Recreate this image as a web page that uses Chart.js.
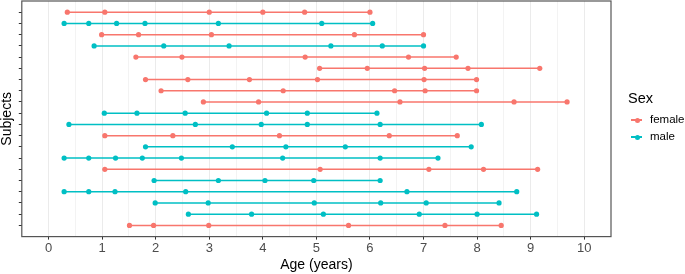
<!DOCTYPE html>
<html>
<head>
<meta charset="utf-8">
<script src="https://cdn.jsdelivr.net/npm/chart.js@4"></script>
<style>
  body { margin: 0; background: #fff; font-family: "Liberation Sans", Arial, sans-serif; }
  #wrap { position: relative; width: 685px; height: 274px; overflow: hidden; }
  #chart { position: absolute; left: 0; top: -3px; }
  #legend { position: absolute; left: 628px; top: 89px; color: #000; }
  #legend .title { font-size: 14.5px; height: 22px; line-height: 18px; }
  #legend .item { position: relative; height: 17px; font-size: 11.5px; line-height: 17px; padding-left: 22px; }
  #legend .key { position: absolute; left: 3px; top: 8px; width: 11px; height: 1.5px; }
  #legend .dot { position: absolute; left: 6.5px; top: 6.5px; width: 5px; height: 5px; border-radius: 50%; }
</style>
</head>
<body>
<div id="wrap">
  <canvas id="chart" width="685" height="277"></canvas>
  <div id="legend"></div>
</div>
<script>
// visit ages per subject, top row first
const ages = [
  [0.35, 1.05, 3.0, 4.0, 4.78, 6.0],
  [0.29, 0.75, 1.27, 1.8, 3.17, 5.1, 6.05],
  [0.99, 1.68, 3.04, 5.71, 7.0],
  [0.85, 2.15, 3.37, 5.27, 6.23, 7.0],
  [1.63, 2.49, 4.79, 6.72, 7.61],
  [5.06, 5.95, 7.02, 7.83, 9.17],
  [1.81, 2.6, 3.75, 5.02, 7.01, 7.99],
  [2.1, 4.38, 6.46, 7.03, 7.99],
  [2.89, 3.92, 6.56, 8.69, 9.68],
  [1.04, 1.65, 2.55, 4.07, 4.83, 6.13],
  [0.38, 2.74, 3.97, 4.83, 6.19, 8.08],
  [1.05, 2.32, 4.31, 6.36, 7.63],
  [1.81, 3.43, 4.43, 5.54, 7.89],
  [0.29, 0.75, 1.25, 1.75, 2.48, 4.37, 6.19, 7.27],
  [1.05, 5.07, 7.1, 8.12, 9.13],
  [1.97, 3.17, 4.04, 4.95, 6.19],
  [0.29, 0.75, 1.24, 2.56, 6.69, 8.74],
  [1.99, 2.98, 4.96, 6.2, 7.05, 8.41],
  [2.61, 3.79, 5.13, 6.92, 8.0, 9.11],
  [1.51, 1.96, 2.99, 5.6, 7.4, 8.45]
];
const sex = ['female', 'male', 'female', 'male', 'female', 'female', 'female', 'female', 'female', 'male',
             'male', 'female', 'male', 'male', 'female', 'male', 'male', 'male', 'male', 'female'];
const sexLevels = ['female', 'male'];
const sexColors = { female: '#F8766D', male: '#00BFC4' };
const xTicks = [0, 1, 2, 3, 4, 5, 6, 7, 8, 9, 10];

const datasets = ages.map(function (a, i) {
    const col = sexColors[sex[i]];
    return {
        label: sex[i],
        data: a.map(function (v) { return { x: v, y: i + 1 }; }),
        showLine: true,
        borderColor: col,
        backgroundColor: col,
        borderWidth: 1.5,
        pointRadius: 2.6,
        pointBorderWidth: 0
    };
});

// panel border
const borderPlugin = {
    id: 'panelBorder',
    afterDraw(chart) {
        const a = chart.chartArea;
        const c = chart.ctx;
        c.save();
        c.strokeStyle = '#555555';
        c.lineWidth = 1.2;
        c.strokeRect(a.left, a.top, a.right - a.left, a.bottom - a.top);
        c.restore();
    }
};

const ctx = document.getElementById('chart').getContext('2d');
new Chart(ctx, {
    type: 'scatter',
    data: { datasets: datasets },
    options: {
        responsive: false,
        animation: false,
        devicePixelRatio: 1,
        layout: { padding: { left: -1, right: 74, top: 0, bottom: 0 } },
        plugins: { legend: { display: false }, tooltip: { enabled: false } },
        scales: {
            x: {
                type: 'linear',
                min: -0.5,
                max: 10.5,
                afterBuildTicks(scale) {
                    const t = [];
                    for (let v = 0; v <= 10; v += 0.5) t.push({ value: v });
                    scale.ticks = t;
                },
                ticks: {
                    autoSkip: false,
                    maxRotation: 0,
                    padding: 1,
                    color: '#4d4d4d',
                    font: { family: 'Liberation Sans', size: 13 },
                    callback: function (v) { return xTicks.includes(v) ? String(v) : ''; }
                },
                grid: {
                    color: function (c) { return Number.isInteger(c.tick.value) ? '#ebebeb' : '#f3f3f3'; },
                    lineWidth: 1,
                    tickLength: 3,
                    tickColor: function (c) { return Number.isInteger(c.tick.value) ? '#333333' : 'rgba(0,0,0,0)'; }
                },
                border: { display: false },
                title: {
                    display: true,
                    text: 'Age (years)',
                    color: '#000',
                    font: { family: 'Liberation Sans', size: 14 },
                    padding: { top: 0, bottom: 0 }
                }
            },
            y: {
                type: 'linear',
                min: 0,
                max: 21,
                reverse: true,
                afterBuildTicks(scale) {
                    const t = [];
                    for (let v = 1; v <= ages.length; v++) t.push({ value: v });
                    scale.ticks = t;
                },
                ticks: {
                    autoSkip: false,
                    padding: 0,
                    font: { size: 1 },
                    callback: function () { return ''; }
                },
                grid: {
                    drawOnChartArea: false,
                    tickLength: 3,
                    tickColor: '#333333'
                },
                border: { display: false },
                title: {
                    display: true,
                    text: 'Subjects',
                    color: '#000',
                    font: { family: 'Liberation Sans', size: 14 },
                    padding: { top: 0, bottom: 3 }
                }
            }
        }
    },
    plugins: [borderPlugin]
});

// legend
const leg = document.getElementById('legend');
let html = '<div class="title">Sex</div>';
sexLevels.forEach(function (s) {
    html += '<div class="item"><span class="key" style="background:' + sexColors[s] + '"></span>' +
            '<span class="dot" style="background:' + sexColors[s] + '"></span>' + s + '</div>';
});
leg.innerHTML = html;
</script>
</body>
</html>
